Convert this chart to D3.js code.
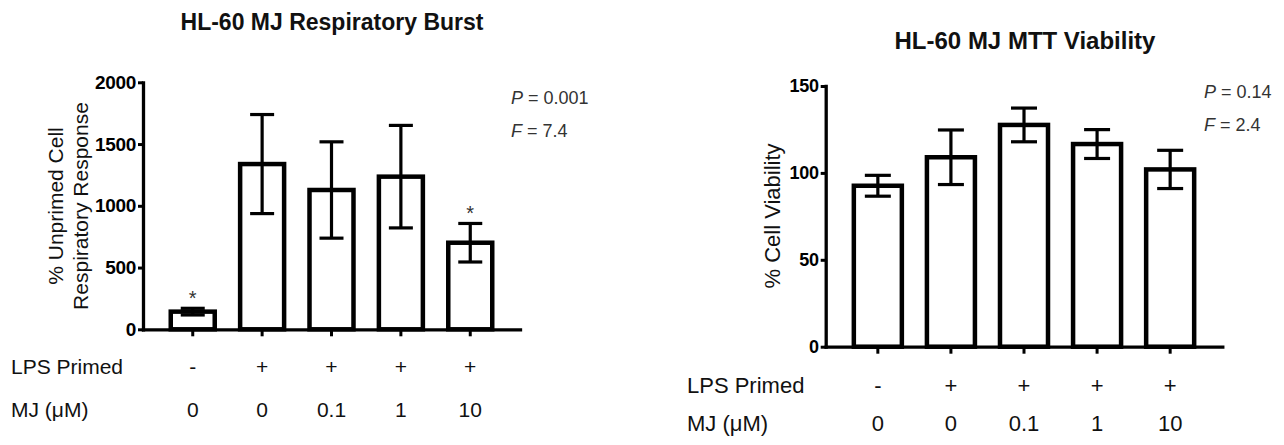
<!DOCTYPE html>
<html>
<head>
<meta charset="utf-8">
<script src="https://cdn.jsdelivr.net/npm/d3@7"></script>
<style>
  body { margin: 0; background: #fff; }
  svg { display: block; font-family: "Liberation Sans", Arial, sans-serif; }
</style>
</head>
<body>
<script>
// shared x categories
const lpsPrimed = ["-", "+", "+", "+", "+"];
const mjDose = ["0", "0", "0.1", "1", "10"];

// respiratory burst panel
const burstMean = [143, 1338, 1128, 1236, 701];
const burstErr = [27, 401, 390, 415, 156];
const burstStar = [true, false, false, false, true];
const burstTicks = [0, 500, 1000, 1500, 2000];

// MTT viability panel
const viabMean = [92.6, 109, 127.6, 116.6, 102];
const viabErr = [6, 15.7, 9.7, 8.3, 11];
const viabTicks = [0, 50, 100, 150];

const W = 1284, H = 445;

const svg = d3.select("body").append("svg")
    .attr("width", W)
    .attr("height", H);

function drawPanel(p) {
  const idx = d3.range(p.mean.length);

  const x = d3.scaleBand()
      .domain(idx)
      .range([p.x0, p.x1])
      .paddingInner(p.padIn)
      .paddingOuter(p.padOut);

  const y = d3.scaleLinear()
      .domain([0, p.ticks[p.ticks.length - 1]])
      .range([p.y0, p.y1]);

  const g = svg.append("g");

  // title
  g.append("text")
      .attr("x", p.titleX)
      .attr("y", p.titleY)
      .attr("text-anchor", "middle")
      .style("font-size", p.titleSize + "px")
      .style("font-weight", "bold")
      .style("fill", "#111")
      .text(p.title);

  // bars
  g.selectAll(".bar")
      .data(idx)
      .join("rect")
      .attr("class", "bar")
      .attr("x", i => x(i))
      .attr("width", x.bandwidth())
      .attr("y", i => y(p.mean[i]))
      .attr("height", i => y(0) - y(p.mean[i]))
      .style("fill", "#fff")
      .style("stroke", "#000")
      .style("stroke-width", 4.5);

  // error bars
  const cx = i => x(i) + x.bandwidth() / 2;
  const cap = p.capW / 2;
  const err = g.selectAll(".err")
      .data(idx)
      .join("g")
      .attr("class", "err")
      .style("stroke", "#000")
      .style("stroke-width", 3.2);
  err.append("line")
      .attr("x1", cx).attr("x2", cx)
      .attr("y1", i => y(p.mean[i] + p.err[i]))
      .attr("y2", i => y(p.mean[i] - p.err[i]));
  err.append("line")
      .attr("x1", i => cx(i) - cap).attr("x2", i => cx(i) + cap)
      .attr("y1", i => y(p.mean[i] + p.err[i]))
      .attr("y2", i => y(p.mean[i] + p.err[i]));
  err.append("line")
      .attr("x1", i => cx(i) - cap).attr("x2", i => cx(i) + cap)
      .attr("y1", i => y(p.mean[i] - p.err[i]))
      .attr("y2", i => y(p.mean[i] - p.err[i]));

  // significance stars
  if (p.star) {
    g.selectAll(".star")
        .data(idx.filter(i => p.star[i]))
        .join("text")
        .attr("class", "star")
        .attr("x", cx)
        .attr("y", i => y(p.mean[i] + p.err[i]) - 3)
        .attr("text-anchor", "middle")
        .style("font-size", "20px")
        .style("fill", "#333")
        .text("*");
  }

  // axes
  const yAxis = g.append("g")
      .attr("transform", `translate(${p.x0},0)`)
      .call(d3.axisLeft(y).tickValues(p.ticks).tickFormat(d3.format("d"))
        .tickSize(5).tickPadding(2).tickSizeOuter(0));
  yAxis.selectAll("text")
      .style("font-family", "Liberation Sans, Arial, sans-serif")
      .style("font-size", p.tickSize + "px")
      .style("font-weight", "bold")
      .style("letter-spacing", "-0.3px")
      .style("fill", "#000");

  g.append("g")
      .attr("transform", `translate(0,${p.y0})`)
      .call(d3.axisBottom(x).tickFormat("").tickSize(7).tickSizeOuter(0));

  g.selectAll(".domain")
      .style("stroke", "#000")
      .style("stroke-width", 3.3)
      .style("stroke-linecap", "square");
  g.selectAll(".tick line")
      .style("stroke", "#000")
      .style("stroke-width", 3);

  // y label
  const yl = g.append("text")
      .attr("transform", `translate(${p.ylabX},${p.ylabY}) rotate(-90)`)
      .attr("text-anchor", "middle")
      .style("font-size", p.labSize + "px")
      .style("fill", "#111");
  p.ylab.forEach((t, k) => {
    yl.append("tspan")
        .attr("x", 0)
        .attr("dy", k === 0 ? (-(p.ylab.length - 1) * 0.6 + 0.35) + "em" : "1.2em")
        .text(t);
  });

  // stats
  const stat = g.append("g").style("font-size", p.statSize + "px").style("fill", "#333");
  p.stats.forEach((s, k) => {
    const t = stat.append("text")
        .attr("x", p.statX)
        .attr("y", p.statY + k * p.statGap)
        .attr("dy", "0.35em");
    t.append("tspan").style("font-style", "italic").text(s[0]);
    t.append("tspan").text(" = " + s[1]);
  });

  // condition rows
  const rows = [["LPS Primed", lpsPrimed, p.rowY[0]], ["MJ (\u03bcM)", mjDose, p.rowY[1]]];
  rows.forEach(r => {
    g.append("text")
        .attr("x", p.rowLabX)
        .attr("y", r[2])
        .attr("dy", "0.35em")
        .style("font-size", p.rowSize + "px")
        .style("fill", "#111")
        .text(r[0]);
    g.selectAll(null)
        .data(idx)
        .join("text")
        .attr("x", cx)
        .attr("y", r[2])
        .attr("dy", "0.35em")
        .attr("text-anchor", "middle")
        .style("font-size", p.rowSize + "px")
        .style("fill", "#111")
        .text(i => r[1][i]);
  });
}

drawPanel({
  title: "HL-60 MJ Respiratory Burst", titleX: 332, titleY: 30, titleSize: 23,
  mean: burstMean, err: burstErr, star: burstStar, ticks: burstTicks,
  x0: 143, x1: 520, y0: 329.3, y1: 82.3, padIn: 0.366, padOut: 0.4, capW: 24,
  tickSize: 19,
  ylab: ["% Unprimed Cell", "Respiratory Response"], ylabX: 68, ylabY: 206, labSize: 21,
  stats: [["P", "0.001"], ["F", "7.4"]], statX: 511, statY: 98, statGap: 32.5, statSize: 18,
  rowLabX: 11, rowY: [366.7, 410], rowSize: 21
});

drawPanel({
  title: "HL-60 MJ MTT Viability", titleX: 1025, titleY: 49, titleSize: 24,
  mean: viabMean, err: viabErr, star: null, ticks: viabTicks,
  x0: 825.7, x1: 1222.3, y0: 346.7, y1: 86, padIn: 0.343, padOut: 0.385, capW: 26,
  tickSize: 18,
  ylab: ["% Cell Viability"], ylabX: 772, ylabY: 216, labSize: 22,
  stats: [["P", "0.14"], ["F", "2.4"]], statX: 1204, statY: 92, statGap: 32.5, statSize: 18,
  rowLabX: 687, rowY: [385, 423.3], rowSize: 22
});
</script>
</body>
</html>
